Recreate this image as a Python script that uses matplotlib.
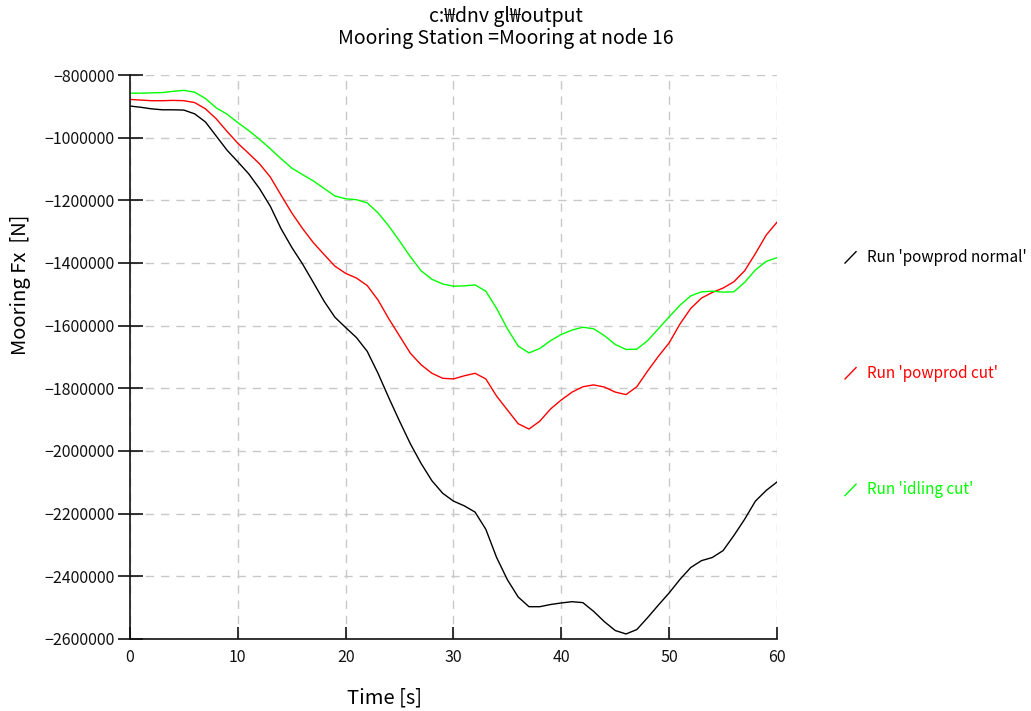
import matplotlib
matplotlib.use('Agg')

import matplotlib.pyplot as plt
from matplotlib.lines import Line2D
from matplotlib.ticker import ScalarFormatter

plt.rcParams['font.family'] = ['Noto Sans CJK KR', 'DejaVu Sans']

# time [s]
time = list(range(0, 61))

# Mooring Fx [N]
powprod_normal = [
    -899000, -903000, -908000, -911000, -911000, -912000, -924000, -950000, -995000, -1040000,
    -1077000, -1115000, -1162000, -1218000, -1290000, -1350000, -1403000, -1462000, -1522000, -1573000,
    -1606000, -1638000, -1682000, -1752000, -1830000, -1905000, -1977000, -2040000, -2095000, -2135000,
    -2160000, -2175000, -2195000, -2250000, -2340000, -2411000, -2466000, -2497000, -2497000, -2490000,
    -2485000, -2481000, -2484000, -2512000, -2545000, -2573000, -2584000, -2570000, -2532000, -2492000,
    -2453000, -2410000, -2372000, -2350000, -2340000, -2318000, -2270000, -2218000, -2160000, -2126000,
    -2099000,
]
powprod_cut = [
    -878000, -880000, -882000, -882000, -881000, -882000, -888000, -908000, -940000, -980000,
    -1018000, -1050000, -1083000, -1125000, -1183000, -1240000, -1290000, -1335000, -1373000, -1410000,
    -1433000, -1448000, -1472000, -1518000, -1578000, -1633000, -1688000, -1725000, -1752000, -1768000,
    -1770000, -1760000, -1752000, -1770000, -1825000, -1869000, -1913000, -1930000, -1905000, -1866000,
    -1837000, -1812000, -1795000, -1789000, -1796000, -1812000, -1820000, -1795000, -1745000, -1698000,
    -1655000, -1595000, -1545000, -1512000, -1494000, -1480000, -1460000, -1425000, -1370000, -1311000,
    -1270000,
]
idling_cut = [
    -858000, -858000, -857000, -856000, -852000, -849000, -855000, -875000, -905000, -925000,
    -952000, -977000, -1005000, -1035000, -1067000, -1097000, -1118000, -1138000, -1162000, -1186000,
    -1195000, -1198000, -1208000, -1240000, -1282000, -1330000, -1380000, -1425000, -1452000, -1467000,
    -1474000, -1473000, -1470000, -1490000, -1545000, -1610000, -1665000, -1687000, -1673000, -1648000,
    -1628000, -1614000, -1605000, -1610000, -1632000, -1660000, -1676000, -1675000, -1648000, -1610000,
    -1572000, -1535000, -1505000, -1492000, -1490000, -1493000, -1492000, -1462000, -1422000, -1395000,
    -1383000,
]

series_names = ["Run 'powprod normal'", "Run 'powprod cut'", "Run 'idling cut'"]
series_values = [powprod_normal, powprod_cut, idling_cut]
series_colors = ['#000000', '#ff0000', '#00ff00']

y_ticks = list(range(-800000, -2600001, -200000))
x_ticks = list(range(0, 61, 10))

fig = plt.figure(figsize=(10.31, 7.11), dpi=100)
ax = fig.add_axes([0.1261, 0.1013, 0.6275, 0.7932])

for vals, col in zip(series_values, series_colors):
    ax.plot(time, vals, color=col, linewidth=1.0)

ax.set_xlim(0, 60)
ax.set_ylim(-2600000, -800000)
ax.set_xticks(x_ticks)
ax.set_yticks(y_ticks)
fmt = ScalarFormatter(useOffset=False)
fmt.set_scientific(False)
ax.yaxis.set_major_formatter(fmt)

ax.grid(True, linestyle=(0, (6, 5)), color='#c8c8c8', linewidth=1.0)
ax.set_axisbelow(True)

for s in ['top', 'right']:
    ax.spines[s].set_visible(False)
for s in ['left', 'bottom']:
    ax.spines[s].set_linewidth(1.2)
    ax.spines[s].set_color('#111111')

ax.tick_params(axis='y', direction='inout', length=18, width=1.2, labelsize=11.5,
               colors='#111111', pad=2)
ax.tick_params(axis='x', direction='in', length=9, width=1.2, labelsize=11.5,
               colors='#111111', pad=7)

fig.text(0.491, 0.977, 'c:\u20a9dnv gl\u20a9output', ha='center', va='center', fontsize=14)
fig.text(0.491, 0.946, 'Mooring Station =Mooring at node 16', ha='center', va='center', fontsize=14)

fig.text(0.020, 0.60, 'Mooring Fx  [N]', rotation=90, ha='center', va='center', fontsize=14.5)
fig.text(0.373, 0.018, 'Time [s]', ha='center', va='center', fontsize=14.5)

# legend on the right
legend_y = [0.638, 0.475, 0.311]
for name, col, ly in zip(series_names, series_colors, legend_y):
    fig.add_artist(Line2D([0.8196, 0.8303], [ly - 0.008, ly + 0.008], color=col,
                          linewidth=1.0, transform=fig.transFigure))
    fig.text(0.841, ly, name, color=col, ha='left', va='center', fontsize=11)

plt.savefig('out.png', dpi=100)
